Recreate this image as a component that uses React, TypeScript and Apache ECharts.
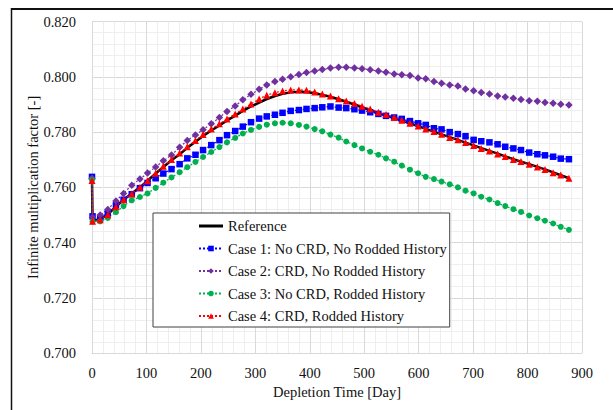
import React, { useEffect, useRef } from "react";
import * as echarts from "echarts";

const days = [0, 1, 15, 29, 44, 58, 73, 88, 102, 117, 131, 146, 161, 175, 190, 204, 219, 234, 248, 263, 277, 292, 307, 321, 336, 350, 365, 380, 394, 409, 423, 438, 453, 467, 482, 496, 511, 526, 540, 555, 569, 584, 599, 613, 628, 642, 657, 672, 686, 701, 715, 730, 745, 759, 774, 788, 803, 818, 832, 847, 861, 876];

const reference = [0.7628, 0.7480, 0.7484, 0.7502, 0.7530, 0.7555, 0.7578, 0.7600, 0.7624, 0.7650, 0.7674, 0.7698, 0.7720, 0.7743, 0.7765, 0.7786, 0.7806, 0.7824, 0.7842, 0.7860, 0.7877, 0.7893, 0.7907, 0.7920, 0.7931, 0.7939, 0.7944, 0.7946, 0.7945, 0.7941, 0.7935, 0.7928, 0.7919, 0.7910, 0.7900, 0.7890, 0.7879, 0.7869, 0.7860, 0.7851, 0.7842, 0.7832, 0.7822, 0.7812, 0.7802, 0.7792, 0.7782, 0.7772, 0.7762, 0.7752, 0.7742, 0.7732, 0.7722, 0.7712, 0.7702, 0.7693, 0.7684, 0.7674, 0.7665, 0.7654, 0.7644, 0.7633];

const case1 = [0.7638, 0.7495, 0.7489, 0.7507, 0.7535, 0.7555, 0.7575, 0.7597, 0.7616, 0.7633, 0.7650, 0.7666, 0.7684, 0.7705, 0.7718, 0.7735, 0.7753, 0.7771, 0.7789, 0.7804, 0.7820, 0.7836, 0.7849, 0.7857, 0.7863, 0.7870, 0.7877, 0.7880, 0.7884, 0.7887, 0.7890, 0.7893, 0.7889, 0.7887, 0.7883, 0.7878, 0.7872, 0.7866, 0.7859, 0.7853, 0.7848, 0.7840, 0.7832, 0.7826, 0.7814, 0.7810, 0.7800, 0.7793, 0.7785, 0.7772, 0.7767, 0.7763, 0.7756, 0.7747, 0.7741, 0.7735, 0.7726, 0.7720, 0.7716, 0.7711, 0.7704, 0.7702];

const case2 = [0.7633, 0.7492, 0.7500, 0.7520, 0.7551, 0.7578, 0.7608, 0.7630, 0.7652, 0.7674, 0.7696, 0.7717, 0.7745, 0.7770, 0.7790, 0.7809, 0.7830, 0.7853, 0.7875, 0.7895, 0.7917, 0.7937, 0.7955, 0.7971, 0.7983, 0.7992, 0.8001, 0.8009, 0.8016, 0.8021, 0.8027, 0.8032, 0.8035, 0.8035, 0.8032, 0.8030, 0.8026, 0.8021, 0.8017, 0.8011, 0.8008, 0.8005, 0.7996, 0.7993, 0.7983, 0.7977, 0.7971, 0.7967, 0.7956, 0.7950, 0.7944, 0.7938, 0.7931, 0.7927, 0.7923, 0.7918, 0.7914, 0.7912, 0.7907, 0.7905, 0.7901, 0.7898];

const case3 = [0.7627, 0.7476, 0.7477, 0.7489, 0.7510, 0.7532, 0.7553, 0.7565, 0.7578, 0.7598, 0.7617, 0.7636, 0.7655, 0.7673, 0.7692, 0.7710, 0.7728, 0.7746, 0.7763, 0.7779, 0.7795, 0.7808, 0.7819, 0.7827, 0.7832, 0.7834, 0.7832, 0.7826, 0.7820, 0.7811, 0.7803, 0.7791, 0.7780, 0.7766, 0.7753, 0.7741, 0.7729, 0.7718, 0.7705, 0.7693, 0.7679, 0.7664, 0.7651, 0.7638, 0.7630, 0.7621, 0.7611, 0.7600, 0.7588, 0.7578, 0.7566, 0.7556, 0.7543, 0.7532, 0.7521, 0.7511, 0.7498, 0.7488, 0.7479, 0.7469, 0.7457, 0.7446];

const case4 = [0.7625, 0.7477, 0.7483, 0.7501, 0.7530, 0.7555, 0.7577, 0.7600, 0.7624, 0.7651, 0.7676, 0.7701, 0.7724, 0.7747, 0.7770, 0.7791, 0.7811, 0.7830, 0.7848, 0.7866, 0.7884, 0.7902, 0.7920, 0.7934, 0.7943, 0.7949, 0.7953, 0.7953, 0.7952, 0.7945, 0.7938, 0.7931, 0.7921, 0.7913, 0.7904, 0.7894, 0.7884, 0.7872, 0.7864, 0.7854, 0.7843, 0.7832, 0.7822, 0.7811, 0.7802, 0.7792, 0.7781, 0.7772, 0.7762, 0.7752, 0.7741, 0.7732, 0.7721, 0.7712, 0.7701, 0.7694, 0.7684, 0.7674, 0.7665, 0.7653, 0.7645, 0.7633];

const seriesNames = [
  "Reference",
  "Case 1: No CRD, No Rodded History",
  "Case 2: CRD, No Rodded History",
  "Case 3: No CRD, Rodded History",
  "Case 4: CRD, Rodded History",
];

const FONT = "Liberation Serif";
const FS = 14.5;

function pairs(vals: number[]) {
  return days.map((d, i) => [d, vals[i]]);
}

export default function App() {
  const ref = useRef<HTMLDivElement>(null);
  useEffect(() => {
    if (!ref.current) return;
    const chart = echarts.init(ref.current, null, { renderer: "svg" });
    const caseStyle = (color: string, symbol: string, size: number, z: number, name: string, vals: number[]) => ({
      name,
      type: "line",
      data: pairs(vals),
      symbol,
      symbolSize: size,
      showSymbol: true,
      z,
      itemStyle: { color },
      lineStyle: { color, width: 1.2, type: [2, 2] },
    });
    chart.setOption({
      animation: false,
      backgroundColor: "#fff",
      textStyle: { fontFamily: FONT },
      grid: { left: 92, right: 31, top: 21.7, bottom: 57, containLabel: false },
      xAxis: {
        type: "value",
        min: 0,
        max: 900,
        interval: 100,
        name: "Depletion Time [Day]",
        nameLocation: "middle",
        nameGap: 31,
        nameMoveOverlap: false,
        nameTextStyle: { fontFamily: FONT, fontSize: FS, color: "#111" },
        axisLine: { show: true, lineStyle: { color: "#d9d9d9" } },
        axisTick: { show: false },
        axisLabel: { fontFamily: FONT, fontSize: FS, color: "#111", margin: 12 },
        splitLine: { show: true, lineStyle: { color: "#d9d9d9", width: 1 } },
        minorTick: { show: false, splitNumber: 5 },
        minorSplitLine: { show: true, lineStyle: { color: "#eeeeee", width: 1 } },
      },
      yAxis: {
        type: "value",
        min: 0.7,
        max: 0.82,
        interval: 0.02,
        name: "Infinite multiplication factor [-]",
        nameLocation: "middle",
        nameRotate: 90,
        nameGap: 52,
        nameMoveOverlap: false,
        nameTextStyle: { fontFamily: FONT, fontSize: FS, color: "#111" },
        axisLine: { show: true, lineStyle: { color: "#d9d9d9" } },
        axisTick: { show: false },
        axisLabel: {
          fontFamily: FONT,
          fontSize: FS,
          color: "#111",
          margin: 16,
          formatter: (v: number) => v.toFixed(3),
        },
        splitLine: { show: true, lineStyle: { color: "#d9d9d9", width: 1 } },
        minorTick: { show: false, splitNumber: 5 },
        minorSplitLine: { show: true, lineStyle: { color: "#eeeeee", width: 1 } },
      },
      legend: {
        orient: "vertical",
        left: 153,
        top: 213,
        itemWidth: 24,
        itemHeight: 7,
        itemGap: 7.5,
        padding: [5.5, 3, 3.5, 45],
        backgroundColor: "#fff",
        borderColor: "#404040",
        borderWidth: 1,
        textStyle: { fontFamily: FONT, fontSize: FS, color: "#111" },
        data: [
          { name: seriesNames[0], icon: "path://M0,0H24V3H0Z" },
          seriesNames[1],
          seriesNames[2],
          seriesNames[3],
          seriesNames[4],
        ],
      },
      graphic: [
        { type: "line", shape: { x1: 11.5, y1: 9, x2: 613, y2: 9 }, style: { stroke: "#111", lineWidth: 2 }, silent: true },
        { type: "line", shape: { x1: 11.5, y1: 8, x2: 11.5, y2: 410 }, style: { stroke: "#111", lineWidth: 1.5 }, silent: true },
      ],
      series: [
        {
          name: seriesNames[0],
          type: "line",
          data: pairs(reference),
          symbol: "none",
          showSymbol: false,
          z: 2,
          itemStyle: { color: "#000" },
          lineStyle: { color: "#000", width: 2.5 },
        },
        caseStyle("#0000ff", "rect", 6.5, 3, seriesNames[1], case1),
        caseStyle("#7030a0", "diamond", 7.5, 3, seriesNames[2], case2),
        caseStyle("#00b050", "circle", 6, 3, seriesNames[3], case3),
        caseStyle("#ff0000", "triangle", 7, 4, seriesNames[4], case4),
      ],
    });
    return () => chart.dispose();
  }, []);
  return (
    <div
      ref={ref}
      style={{ position: "fixed", left: 0, top: 0, width: 613, height: 410 }}
    />
  );
}
